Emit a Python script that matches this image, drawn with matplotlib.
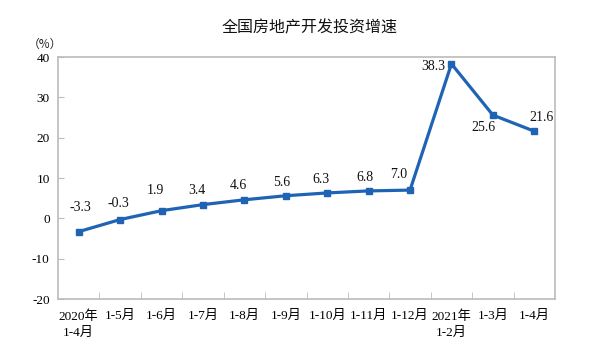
import matplotlib
matplotlib.use("Agg")
import matplotlib.pyplot as plt

categories = ["2020年\n1-4月", "1-5月", "1-6月", "1-7月", "1-8月", "1-9月", "1-10月",
              "1-11月", "1-12月", "2021年\n1-2月", "1-3月", "1-4月"]
values = [-3.3, -0.3, 1.9, 3.4, 4.6, 5.6, 6.3, 6.8, 7.0, 38.3, 25.6, 21.6]
value_labels = ["-3.3", "-0.3", "1.9", "3.4", "4.6", "5.6", "6.3", "6.8", "7.0", "38.3", "25.6", "21.6"]
yticks = [-20, -10, 0, 10, 20, 30, 40]

# label offsets in pixels (dx, dy)
offsets_px = [(2, 24), (-2, 16), (-6, 20), (-6, 14), (-6, 14), (-4, 13), (-6, 13),
              (-4, 13), (-11, 16), (-18, -3), (-9, -12), (7, 14)]

serif = ['Liberation Serif', 'Noto Sans CJK SC']
sans = ['Noto Sans CJK SC', 'DejaVu Sans']

fig = plt.figure(figsize=(6.01, 3.54), dpi=100)
ax = fig.add_axes([58/601, 1-299/354, (555-58)/601, (299-57)/354])

x = list(range(len(values)))
color = "#1F64B4"
ax.plot(x, values, color=color, lw=2.3, marker="s", ms=4.5, mfc=color, mec=color, zorder=3)

for xi, v, lab, (dx, dy) in zip(x, values, value_labels, offsets_px):
    ax.annotate(lab, (xi, v), xytext=(dx*0.72, dy*0.72), textcoords="offset points",
                ha="center", va="center", fontsize=10, family=serif, color="#111111")

ax.set_xlim(-0.5, len(values)-0.5)
ax.set_ylim(-20, 40)
ax.set_yticks(yticks)
ax.set_yticklabels([str(t) for t in yticks], family=serif, fontsize=9.5)
ax.set_xticks(x)
ax.set_xticklabels(categories, family=serif, fontsize=9.5, linespacing=1.5)
ax.tick_params(axis='x', length=0, pad=8)
ax.set_xticks([i+0.5 for i in range(len(values)-1)], minor=True)
ax.tick_params(axis='x', which='minor', direction='in', length=5, color="#BBBBBB")
ax.tick_params(axis='y', direction='in', length=4, color="#BBBBBB", pad=6)
for s in ax.spines.values():
    s.set_color("#BBBBBB")
    s.set_linewidth(1.2)

for lbl in ax.get_xticklabels():
    lbl.set_verticalalignment('top')

fig.text(310/601, 1-28/354, "全国房地产开发投资增速", ha="center", va="center",
         fontsize=11.5, family=sans, color="#111111")
fig.text(45/601, 1-44/354, "（%）", ha="center", va="center", fontsize=8.5, family=sans, color="#222222")

fig.savefig("out.png", dpi=100)
